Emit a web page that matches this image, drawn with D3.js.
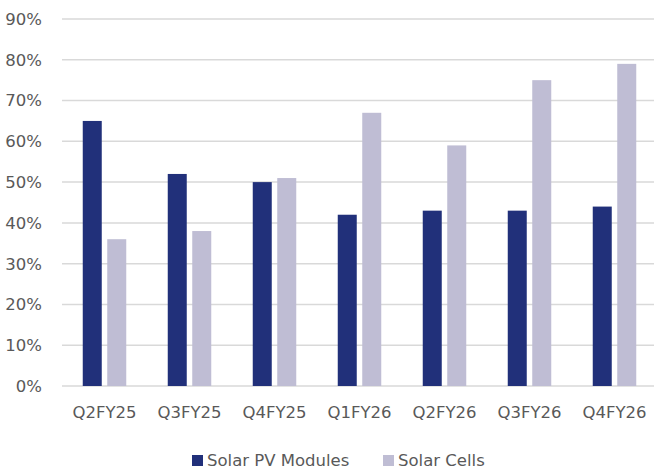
<!DOCTYPE html>
<html>
<head>
<meta charset="utf-8">
<script src="https://cdn.jsdelivr.net/npm/d3@7"></script>
<style>
  html, body { margin: 0; padding: 0; background: #ffffff; }
  svg { display: block; font-family: "DejaVu Sans", "Open Sans", sans-serif; }
</style>
</head>
<body>
<svg id="chart" width="654" height="469"></svg>
<script>
const categories = ["Q2FY25", "Q3FY25", "Q4FY25", "Q1FY26", "Q2FY26", "Q3FY26", "Q4FY26"];
const seriesNames = ["Solar PV Modules", "Solar Cells"];
const pvModules = [65, 52, 50, 42, 43, 43, 44];
const solarCells = [36, 38, 51, 67, 59, 75, 79];
const yTicks = [0, 10, 20, 30, 40, 50, 60, 70, 80, 90];
const colors = ["#21307A", "#BFBDD4"];

(function () {
const svg = d3.select("#chart");
const mLeft = 62, mRight = 657, mTop = 19, mBottom = 386;
const fs = 16.5;

const x = d3.scaleBand().domain(categories).range([mLeft, mRight]).paddingInner(0).paddingOuter(0);
const y = d3.scaleLinear().domain([0, 90]).range([mBottom, mTop]);

// gridlines
svg.append("g").selectAll("line").data(yTicks).join("line")
  .attr("x1", mLeft).attr("x2", 654)
  .attr("y1", d => y(d)).attr("y2", d => y(d))
  .attr("stroke", "#D9D9D9").attr("stroke-width", 1.5);

// y labels
svg.append("g").selectAll("text").data(yTicks).join("text")
  .attr("x", 42).attr("y", d => y(d)).attr("dy", "0.36em")
  .attr("text-anchor", "end").attr("fill", "#595959").attr("font-size", fs)
  .text(d => d + "%");

// bars
const barW = 19, gap = 5.5;
const series = [pvModules, solarCells];
series.forEach((vals, si) => {
  svg.append("g").selectAll("rect").data(categories).join("rect")
    .attr("x", (c) => x(c) + x.bandwidth() / 2 + (si === 0 ? -gap / 2 - barW : gap / 2))
    .attr("width", barW)
    .attr("y", (c, i) => y(vals[i]))
    .attr("height", (c, i) => y(0) - y(vals[i]))
    .attr("fill", colors[si]);
});

// x labels
svg.append("g").selectAll("text").data(categories).join("text")
  .attr("x", c => x(c) + x.bandwidth() / 2).attr("y", 418)
  .attr("text-anchor", "middle").attr("fill", "#595959").attr("font-size", fs)
  .text(c => c);

// legend
const legend = [{x: 192, name: seriesNames[0], color: colors[0]}, {x: 383, name: seriesNames[1], color: colors[1]}];
const lg = svg.append("g");
legend.forEach(l => {
  lg.append("rect").attr("x", l.x).attr("y", 455).attr("width", 11).attr("height", 11).attr("fill", l.color);
  lg.append("text").attr("x", l.x + 15).attr("y", 465.5).attr("fill", "#595959").attr("font-size", fs).text(l.name);
});
})();
</script>
</body>
</html>
